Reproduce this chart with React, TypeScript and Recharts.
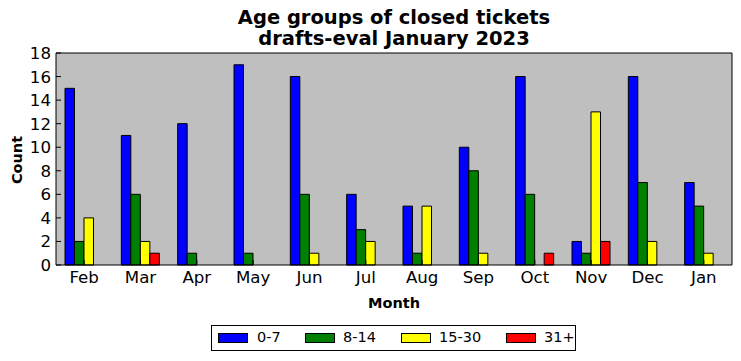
import React from "react";
import {
  BarChart,
  Bar,
  XAxis,
  YAxis,
  CartesianGrid,
} from "recharts";

const months = ["Feb", "Mar", "Apr", "May", "Jun", "Jul", "Aug", "Sep", "Oct", "Nov", "Dec", "Jan"];
const age0to7 = [15, 11, 12, 17, 16, 6, 5, 10, 16, 2, 16, 7];
const age8to14 = [2, 6, 1, 1, 6, 3, 1, 8, 6, 1, 7, 5];
const age15to30 = [4, 2, 0, 0, 1, 2, 5, 1, 0, 13, 2, 1];
const age31plus = [0, 1, 0, 0, 0, 0, 0, 0, 1, 2, 0, 0];
const yTicks = [0, 2, 4, 6, 8, 10, 12, 14, 16, 18];

const series = [
  { key: "0-7", color: "#0000ff" },
  { key: "8-14", color: "#008000" },
  { key: "15-30", color: "#ffff00" },
  { key: "31+", color: "#ff0000" },
];

const data = months.map((month, i) => ({
  month,
  "0-7": age0to7[i],
  "8-14": age8to14[i],
  "15-30": age15to30[i],
  "31+": age31plus[i],
}));

const FONT = "'DejaVu Sans', sans-serif";
const TICK_SIZE = 16.67;

// legend item offsets inside the box (swatch left, label left)
const legendPos = [
  [6, 45],
  [93, 131],
  [189, 227],
  [294, 332],
];

const XTick = (p: any) => (
  <text x={p.x} y={p.y} dy={12} textAnchor="middle" fontSize={TICK_SIZE} fontFamily={FONT} fill="#000">
    {p.payload.value}
  </text>
);

const YTick = (p: any) => (
  <text x={p.x} y={p.y} dy={6} textAnchor="end" fontSize={TICK_SIZE} fontFamily={FONT} fill="#000">
    {p.payload.value}
  </text>
);

export default function App() {
  return (
    <div style={{ position: "absolute", left: 0, top: 0, width: 741, height: 361, background: "#fff", fontFamily: FONT }}>
      <BarChart
        width={741}
        height={361}
        data={data}
        margin={{ top: 52, right: 8, left: 0, bottom: 66 }}
        barGap={0}
        barSize={9.5}
      >
        <CartesianGrid
          vertical={false}
          fill="#bfbfbf"
          stroke="#808080"
          strokeDasharray="1.5 3"
          horizontalValues={yTicks}
        />
        <XAxis
          dataKey="month"
          xAxisId="bottom"
          height={30}
          tickSize={-5}
          tickMargin={11}
          axisLine={{ stroke: "#000" }}
          tickLine={{ stroke: "#000" }}
          tick={XTick}
          interval={0}
        />
        <XAxis
          dataKey="month"
          xAxisId="top"
          orientation="top"
          height={1}
          tickSize={-5}
          axisLine={{ stroke: "#000" }}
          tickLine={{ stroke: "#000" }}
          tick={false}
          interval={0}
        />
        <YAxis
          yAxisId="left"
          width={56}
          domain={[0, 18]}
          ticks={yTicks}
          interval={0}
          tickSize={-5}
          tickMargin={10}
          axisLine={{ stroke: "#000" }}
          tickLine={{ stroke: "#000" }}
          tick={YTick}
        />
        <YAxis
          yAxisId="right"
          orientation="right"
          width={1}
          domain={[0, 18]}
          ticks={yTicks}
          interval={0}
          tickSize={-5}
          axisLine={{ stroke: "#000" }}
          tickLine={{ stroke: "#000" }}
          tick={false}
        />
        {series.map((s) => (
          <Bar
            key={s.key}
            dataKey={s.key}
            xAxisId="bottom"
            yAxisId="left"
            fill={s.color}
            stroke="#000"
            strokeWidth={1}
            isAnimationActive={false}
          />
        ))}
      </BarChart>

      <svg
        width={741}
        height={361}
        style={{ position: "absolute", left: 0, top: 0, pointerEvents: "none" }}
      >
        <text x={394} y={23.5} textAnchor="middle" fontSize={19.5} fontWeight="bold" fontFamily={FONT}>
          Age groups of closed tickets
        </text>
        <text x={394} y={45} textAnchor="middle" fontSize={19.5} fontWeight="bold" fontFamily={FONT}>
          drafts-eval January 2023
        </text>
        <text
          x={22}
          y={160}
          textAnchor="middle"
          fontSize={14.5}
          fontWeight="bold"
          fontFamily={FONT}
          transform="rotate(-90 22 160)"
        >
          Count
        </text>
        <text x={394} y={308} textAnchor="middle" fontSize={14.5} fontWeight="bold" fontFamily={FONT}>
          Month
        </text>
      </svg>

      <div
        style={{
          position: "absolute",
          left: 211,
          top: 325,
          width: 365,
          height: 26,
          border: "1px solid #000",
          boxSizing: "border-box",
          background: "#fff",
        }}
      >
        {series.map((s, i) => (
          <React.Fragment key={s.key}>
            <div
              style={{
                position: "absolute",
                left: legendPos[i][0],
                top: 7,
                width: 28,
                height: 8,
                background: s.color,
                border: "1px solid #000",
              }}
            />
            <div
              style={{
                position: "absolute",
                left: legendPos[i][1],
                top: 3,
                fontSize: 14.5,
                lineHeight: "16px",
                color: "#000",
              }}
            >
              {s.key}
            </div>
          </React.Fragment>
        ))}
      </div>
    </div>
  );
}
